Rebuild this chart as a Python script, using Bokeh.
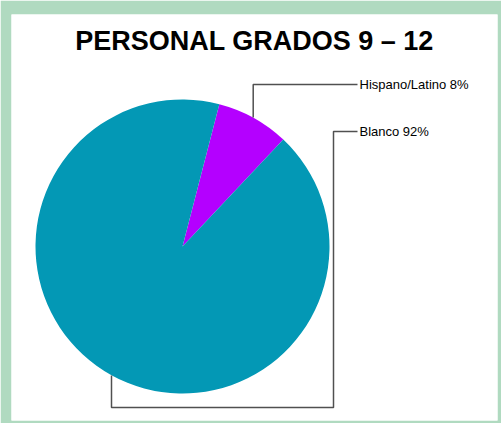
import math
from bokeh.plotting import figure
from bokeh.models import Range1d, ColumnDataSource
from bokeh.core.properties import value
from bokeh.embed import file_html
from bokeh.resources import INLINE

# ---- data ----
title_text = "PERSONAL GRADOS 9 – 12"
categories = ["Hispano/Latino", "Blanco"]
percents = [8, 92]
colors = ["#b400ff", "#0398b5"]

# ---- layout (screen-like coordinates, y negated) ----
W, H = 501, 423
FONT = "Liberation Sans"
cx, cy, r = 182, -246, 147
start_deg = 46.7  # math angle where the first slice begins (counterclockwise)

p = figure(width=W, height=H, output_backend="svg", toolbar_location=None,
           x_range=Range1d(11, 497), y_range=Range1d(-420, -14),
           min_border_left=11, min_border_right=4, min_border_top=14, min_border_bottom=3)
p.border_fill_color = "#b0dac0"
p.background_fill_color = "white"
p.outline_line_color = None
p.axis.visible = False
p.grid.visible = False

# pie slices (first slice goes counterclockwise from start angle)
total = sum(percents)
starts, ends = [], []
a = math.radians(start_deg)
for v in percents:
    starts.append(a)
    a += 2 * math.pi * v / total
    ends.append(a)
src = ColumnDataSource(dict(start=starts, end=ends, color=colors, cat=categories))
p.wedge(x=cx, y=cy, radius=r, start_angle="start", end_angle="end",
        fill_color="color", line_color=None, source=src)

# leader lines
lc = "#505050"
p.line([252.7, 252.7, 357], [-117, -84, -84], line_color=lc, line_width=1.5)
p.line([111, 111, 333, 333, 357], [-375, -407, -407, -131, -131], line_color=lc, line_width=1.5)

labels = [f"{c} {v}%" for c, v in zip(categories, percents)]
p.text(x=[359, 359], y=[-84, -131], text=labels, text_font=value(FONT),
       text_font_size="13px", text_baseline="middle", text_align="left", text_color="black")

p.text(x=[254], y=[-40], text=[title_text], text_font=value(FONT), text_font_style="bold",
       text_font_size="27px", text_baseline="middle", text_align="center", text_color="black")

open("out.html", "w").write(file_html(p, INLINE))
